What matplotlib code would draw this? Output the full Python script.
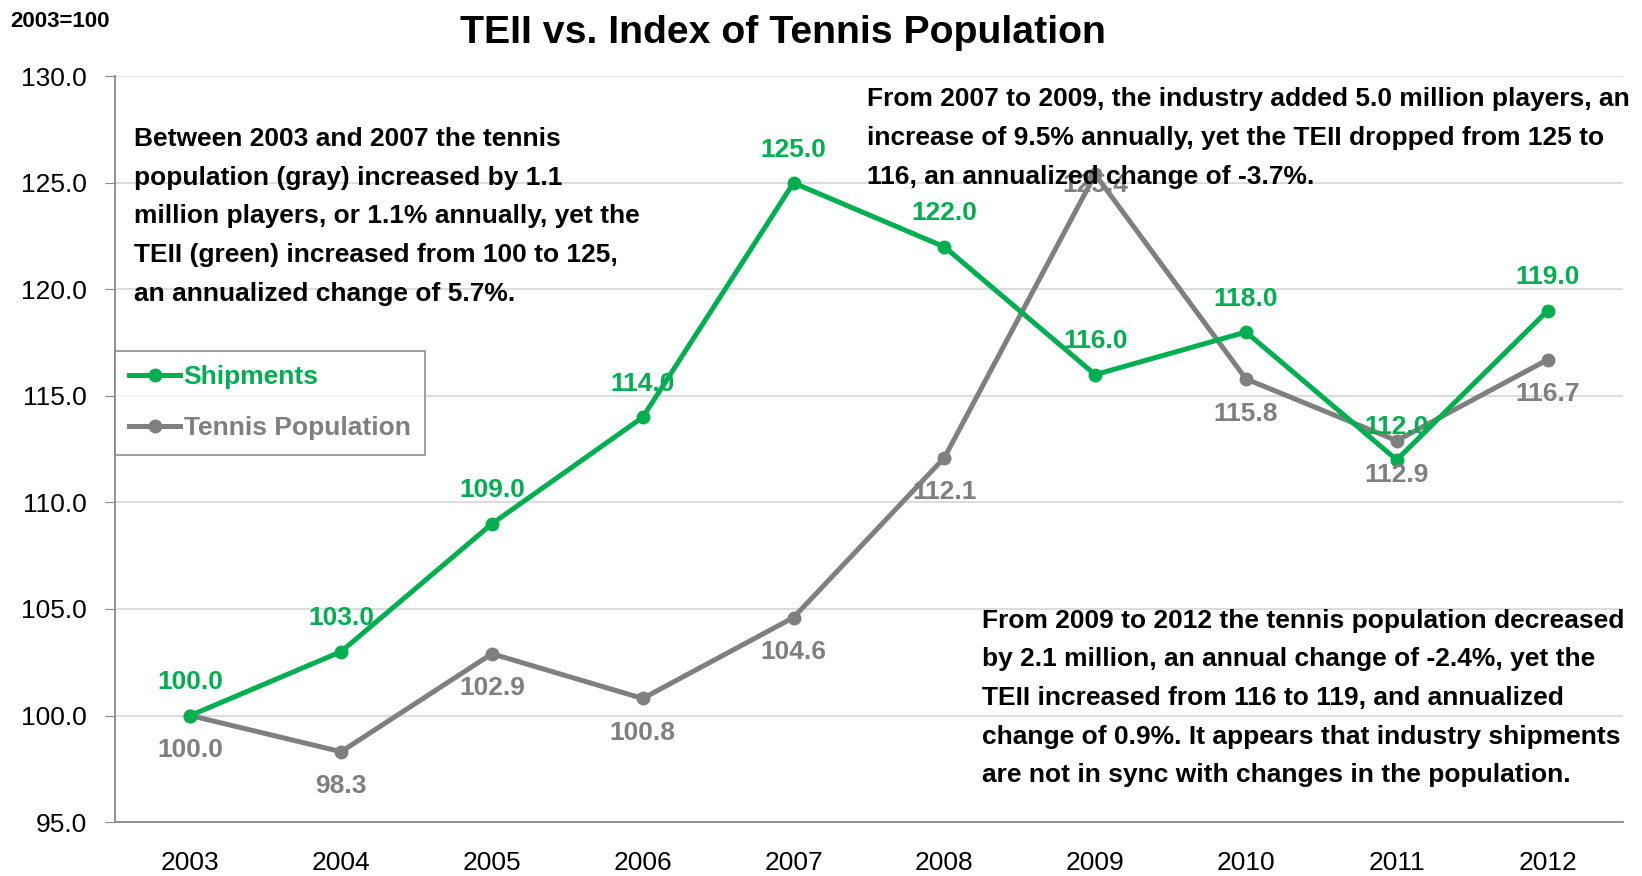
import matplotlib
matplotlib.use('Agg')
import matplotlib.pyplot as plt

# Data (index, 2003=100)
years = ['2003', '2004', '2005', '2006', '2007', '2008', '2009', '2010', '2011', '2012']
shipments = [100.0, 103.0, 109.0, 114.0, 125.0, 122.0, 116.0, 118.0, 112.0, 119.0]
tennis_pop = [100.0, 98.3, 102.9, 100.8, 104.6, 112.1, 125.4, 115.8, 112.9, 116.7]

GREEN = '#00B050'
GRAY = '#7F7F7F'

plt.rcParams['font.family'] = ['Liberation Sans', 'DejaVu Sans']

fig = plt.figure(figsize=(16.42, 8.76), dpi=100)
ax = fig.add_axes([0.070, 0.0616, 0.9184, 0.8512])

x = list(range(len(years)))
ax.plot(x, shipments, color=GREEN, lw=3.6, marker='o', ms=9, label='Shipments', zorder=4)
ax.plot(x, tennis_pop, color=GRAY, lw=3.6, marker='o', ms=9, label='Tennis Population', zorder=3)

# data labels: green above, gray below
for i, v in enumerate(shipments):
    ax.annotate(f'{v:.1f}', (i, v), xytext=(0, 24), textcoords='offset points',
                ha='center', va='center', fontsize=19, fontweight='bold', color=GREEN, zorder=6)
for i, v in enumerate(tennis_pop):
    dy = -8 if years[i] == '2009' else -25
    ax.annotate(f'{v:.1f}', (i, v), xytext=(0, dy), textcoords='offset points',
                ha='center', va='center', fontsize=19, fontweight='bold', color=GRAY, zorder=6)

ax.set_xlim(-0.5, len(years) - 0.5)
ax.set_ylim(95, 130)
ax.set_yticks([95 + 5 * k for k in range(8)])
ax.set_yticklabels([f'{95 + 5 * k:.1f}' for k in range(8)], fontsize=19)
ax.set_xticks(x)
ax.set_xticklabels(years, fontsize=19)
ax.tick_params(axis='x', length=0, pad=21)
ax.tick_params(axis='y', length=7, color='#888888', pad=13)

ax.grid(axis='y', color='#D9D9D9', lw=1.3)
ax.set_axisbelow(True)
for s in ['top', 'right']:
    ax.spines[s].set_visible(False)
ax.spines['left'].set_color('#888888')
ax.spines['bottom'].set_color('#888888')
ax.spines['left'].set_linewidth(1.3)
ax.spines['bottom'].set_linewidth(1.3)

leg = ax.legend(loc='upper left', bbox_to_anchor=(0.0, 0.632), fontsize=19, frameon=True,
                fancybox=False, edgecolor='#7F7F7F', handlelength=1.9, handletextpad=0.15,
                borderpad=0.55, labelspacing=1.02, borderaxespad=0)
leg.get_frame().set_linewidth(1.3)
for txt, col in zip(leg.get_texts(), [GREEN, GRAY]):
    txt.set_color(col)
    txt.set_fontweight('bold')

fig.text(0.477, 0.962, 'TEII vs. Index of Tennis Population', ha='center', va='center',
         fontsize=28.3, fontweight='bold')
fig.text(0.006, 0.975, '2003=100', ha='left', va='center', fontsize=16, fontweight='bold')

note1 = ('Between 2003 and 2007 the tennis\npopulation (gray) increased by 1.1\n'
         'million players, or 1.1% annually, yet the\nTEII (green) increased from 100 to 125,\n'
         'an annualized change of 5.7%.')
note2 = ('From 2007 to 2009, the industry added 5.0 million players, an\n'
         'increase of 9.5% annually, yet the TEII dropped from 125 to\n'
         '116, an annualized change of -3.7%.')
note3 = ('From 2009 to 2012 the tennis population decreased\n'
         'by 2.1 million, an annual change of -2.4%, yet the\n'
         'TEII increased from 116 to 119, and annualized\n'
         'change of 0.9%. It appears that industry shipments\n'
         'are not in sync with changes in the population.')
for txt, xx, yy in [(note1, 0.0816, 0.855), (note2, 0.528, 0.9004), (note3, 0.598, 0.305)]:
    fig.text(xx, yy, txt, ha='left', va='top', fontsize=19, fontweight='bold',
             linespacing=1.77)

fig.savefig('out.png', dpi=100)
